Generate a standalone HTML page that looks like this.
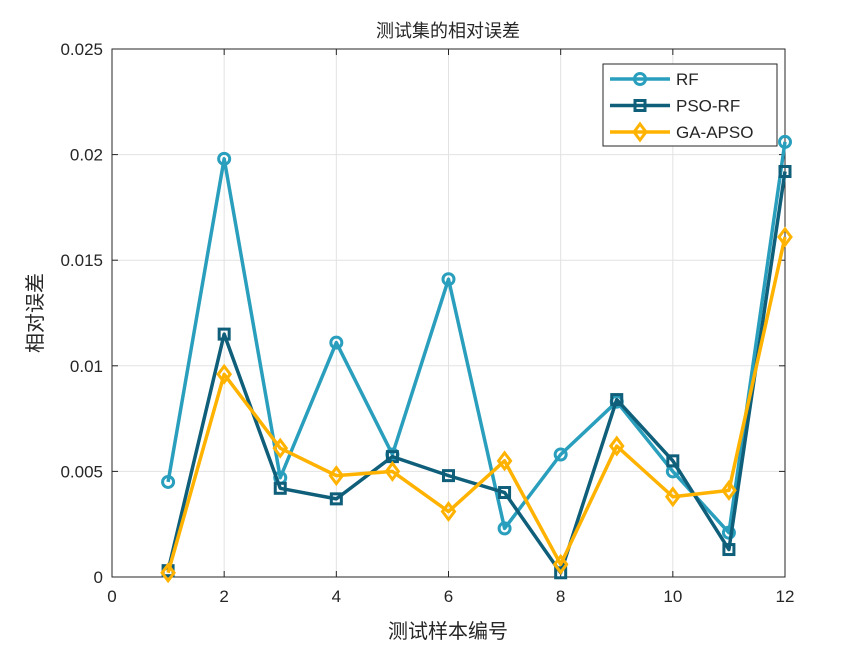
<!DOCTYPE html><html><head><meta charset="utf-8"><style>body{margin:0;background:#fff}svg{display:block}</style></head><body>
<svg id="s" width="865" height="649" xmlns="http://www.w3.org/2000/svg" font-family="Liberation Sans, sans-serif">
<rect width="865" height="649" fill="#fff"/>
<g id="grid" stroke="#e2e2e2" stroke-width="1"></g>
<rect x="112" y="49" width="673" height="528" fill="none" stroke="#262626" stroke-width="1"/>
<g id="ticks" font-size="17" fill="#262626"></g>
<g id="series"></g>
<text x="448" y="37" font-size="18" text-anchor="middle" fill="#262626" font-family="Noto Sans CJK SC, sans-serif">测试集的相对误差</text>
<text x="448" y="638" font-size="20" text-anchor="middle" fill="#262626" font-family="Noto Sans CJK SC, sans-serif">测试样本编号</text>
<text transform="translate(42,313) rotate(-90)" font-size="20" text-anchor="middle" fill="#262626" font-family="Noto Sans CJK SC, sans-serif">相对误差</text>
<g id="leg">
<rect x="603" y="64" width="174" height="82" fill="#fff" stroke="#262626" stroke-width="1"/>
</g>
</svg>
<script>
const ns="http://www.w3.org/2000/svg";
function el(p,t,a,txt){const e=document.createElementNS(ns,t);for(const k in a)e.setAttribute(k,a[k]);if(txt!==undefined)e.textContent=txt;p.appendChild(e);return e;}
const X=v=>112+v*673/12, Y=v=>577-v*528/0.025;
const g=document.getElementById('grid'),tk=document.getElementById('ticks');
for(let i=0;i<=12;i+=2){const x=X(i);if(i>0&&i<12)el(g,'line',{x1:x,x2:x,y1:49,y2:577});
el(tk,'line',{x1:x,x2:x,y1:577,y2:571,stroke:'#262626'});el(tk,'line',{x1:x,x2:x,y1:49,y2:55,stroke:'#262626'});
el(tk,'text',{x:x,y:602,'text-anchor':'middle'},i);}
const yl=['0','0.005','0.01','0.015','0.02','0.025'];
for(let j=0;j<=5;j++){const y=Y(j*0.005);if(j>0&&j<5)el(g,'line',{x1:112,x2:785,y1:y,y2:y});
el(tk,'line',{x1:112,x2:118,y1:y,y2:y,stroke:'#262626'});el(tk,'line',{x1:785,x2:779,y1:y,y2:y,stroke:'#262626'});
el(tk,'text',{x:103,y:y+6,'text-anchor':'end'},yl[j]);}
const S=[
{c:'#2a9fbd',m:'o',d:[0.0045,0.0198,0.0047,0.0111,0.0058,0.0141,0.0023,0.0058,0.0083,0.0050,0.0021,0.0206],n:'RF'},
{c:'#0f5f7a',m:'s',d:[0.0003,0.0115,0.0042,0.0037,0.0057,0.0048,0.0040,0.0002,0.0084,0.0055,0.0013,0.0192],n:'PSO-RF'},
{c:'#ffb300',m:'d',d:[0.0002,0.0096,0.0061,0.0048,0.0050,0.0031,0.0055,0.0006,0.0062,0.0038,0.0041,0.0161],n:'GA-APSO'}];
const sg=document.getElementById('series'),lg=document.getElementById('leg');
function mk(p,m,x,y,c){if(m=='o')el(p,'circle',{cx:x,cy:y,r:5.5,fill:'none',stroke:c,'stroke-width':3});
else if(m=='s')el(p,'rect',{x:x-5,y:y-5,width:10,height:10,fill:'none',stroke:c,'stroke-width':3});
else el(p,'polygon',{points:`${x},${y-8} ${x+6},${y} ${x},${y+8} ${x-6},${y}`,fill:'none',stroke:c,'stroke-width':3});}
S.forEach((s,k)=>{const pts=s.d.map((v,i)=>[X(i+1),Y(v)]);
el(sg,'polyline',{points:pts.map(p=>p.join(',')).join(' '),fill:'none',stroke:s.c,'stroke-width':3.5,'stroke-linejoin':'round'});
pts.forEach(p=>mk(sg,s.m,p[0],p[1],s.c));
const ly=79+k*26.5;el(lg,'line',{x1:610,x2:670,y1:ly,y2:ly,stroke:s.c,'stroke-width':3.5});mk(lg,s.m,640,ly,s.c);
el(lg,'text',{x:676,y:ly+6,'font-size':17,fill:'#262626'},s.n);});
</script></body></html>
